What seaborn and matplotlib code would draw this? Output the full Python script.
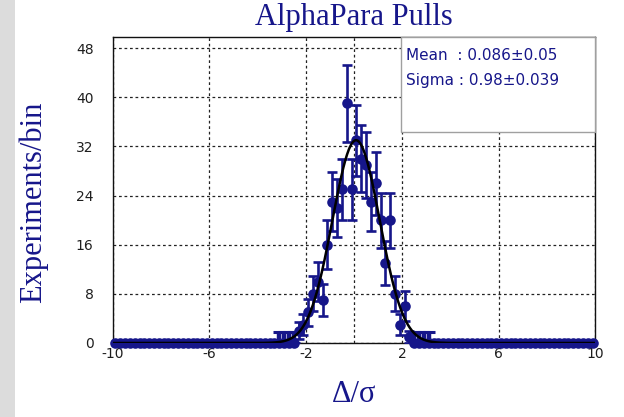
import numpy as np
import pandas as pd
import matplotlib
matplotlib.use("Agg")
import matplotlib.pyplot as plt
from matplotlib.patches import Rectangle
import seaborn as sns

# ---------------- data ----------------
title = "AlphaPara Pulls"
xlabel = "Δ/σ"
ylabel = "Experiments/bin"
bin_lo, bin_hi, n_bins = -10.0, 10.0, 100
# counts per bin, centres -9.9 ... 9.9 (bin width 0.2)
counts = (
    [0] * 37
    + [0, 2, 3, 5, 8, 10, 7, 16, 23, 22, 25, 39, 25]      # -2.5 .. -0.1
    + [33, 30, 29, 23, 26, 20, 13, 20, 8, 3, 6, 1]         # 0.1 .. 2.3
    + [0] * 38
)
fit_mean = 0.086
fit_mean_err = 0.05
fit_sigma = 0.98
fit_sigma_err = 0.039
fit_amp = 33.0
fit_window = 3.2
empty_bin_err = 1.8
xticks = [-10, -6, -2, 2, 6, 10]
yticks = [0, 8, 16, 24, 32, 40, 48]
ymax = 49.8

# ---------------- derived ----------------
width = (bin_hi - bin_lo) / n_bins
centers = bin_lo + width * (np.arange(n_bins) + 0.5)
counts = np.array(counts, dtype=float)
df = pd.DataFrame({"x": centers, "y": counts})
err = np.sqrt(counts)
filled = counts > 0
empty = (counts == 0) & (np.abs(centers) < fit_window)

xf = np.linspace(bin_lo, bin_hi, 800)
fit_df = pd.DataFrame({"x": xf,
                       "y": fit_amp * np.exp(-0.5 * ((xf - fit_mean) / fit_sigma) ** 2)})

# ---------------- style ----------------
sns.set_theme(style="white")
plt.rcParams["font.family"] = ["DejaVu Sans"]
navy = "#16168a"
serif = ["Liberation Serif", "DejaVu Serif"]

W, H = 624, 417
fig = plt.figure(figsize=(W / 100, H / 100), dpi=100)
fig.patch.set_facecolor("white")
fig.add_artist(Rectangle((0, 0), 15 / W, 1, transform=fig.transFigure,
                         facecolor="#dcdcdc", edgecolor="none", zorder=0))

L, R, T, B = 113, 595, 37, 343
ax = fig.add_axes([L / W, 1 - B / H, (R - L) / W, (B - T) / H])
ax.set_facecolor("white")

ax.set_xlim(bin_lo, bin_hi)
ax.set_ylim(0, ymax)
ax.set_xticks(xticks)
ax.set_yticks(yticks)
ax.set_xticklabels([str(t) for t in xticks])
ax.set_yticklabels([str(t) for t in yticks])
ax.tick_params(axis="both", length=0, labelsize=10, colors="#1e1e1e")
ax.tick_params(axis="y", pad=14)
ax.tick_params(axis="x", pad=3)

ax.grid(True, which="major", color="#222222", linestyle=(0, (2.2, 2.2)), linewidth=0.9)
ax.axvline(0, color="#222222", linestyle=(0, (2.2, 2.2)), linewidth=0.9, zorder=0.5)
ax.set_axisbelow(True)
for s in ax.spines.values():
    s.set_color("#111111")
    s.set_linewidth(1.0)
    s.set_visible(True)

# error bars (Poisson) for filled bins
ax.errorbar(centers[filled], counts[filled],
            yerr=[err[filled], err[filled]],
            fmt="none", ecolor=navy, elinewidth=1.9, capsize=3.6, capthick=1.9,
            zorder=3)
# empty bins inside fit window
ax.errorbar(centers[empty], counts[empty],
            yerr=[np.zeros(empty.sum()), np.full(empty.sum(), empty_bin_err)],
            fmt="none", ecolor=navy, elinewidth=3.2, capsize=4.0, capthick=2.2,
            zorder=3)
# points
sns.scatterplot(data=df, x="x", y="y", ax=ax, color=navy, edgecolor=navy,
                s=58, linewidth=0, zorder=4, clip_on=False, legend=False)
# fit curve
sns.lineplot(data=fit_df, x="x", y="y", ax=ax, color="black", linewidth=1.8,
             zorder=5, legend=False)
ax.set_xlabel("")
ax.set_ylabel("")

# stats box
bx0 = (401 - L) / (R - L)
by0 = (B - 132) / (B - T)
ax.add_patch(Rectangle((bx0, by0), 1 - bx0, 1 - by0, transform=ax.transAxes,
                       facecolor="white", edgecolor="#a0a0a0", linewidth=1.0,
                       zorder=6, clip_on=False))
ax.text((406 - L) / (R - L), (B - 55) / (B - T),
        f"Mean  : {fit_mean:.3f}±{fit_mean_err:.2f}",
        transform=ax.transAxes, ha="left", va="center", fontsize=11,
        color=navy, zorder=7)
ax.text((406 - L) / (R - L), (B - 80) / (B - T),
        f"Sigma : {fit_sigma:.2f}±{fit_sigma_err:.3f}",
        transform=ax.transAxes, ha="left", va="center", fontsize=11,
        color=navy, zorder=7)

# titles
fig.text(354 / W, 1 - 18 / H, title, ha="center", va="center",
         fontsize=22, color=navy, family=serif)
fig.text(33 / W, 1 - 202 / H, ylabel, ha="center", va="center", rotation=90,
         fontsize=22, color=navy, family=serif)
fig.text(354 / W, 1 - 395 / H, xlabel, ha="center", va="center",
         fontsize=22, color=navy, family=serif)

fig.savefig("out.png", dpi=100)
